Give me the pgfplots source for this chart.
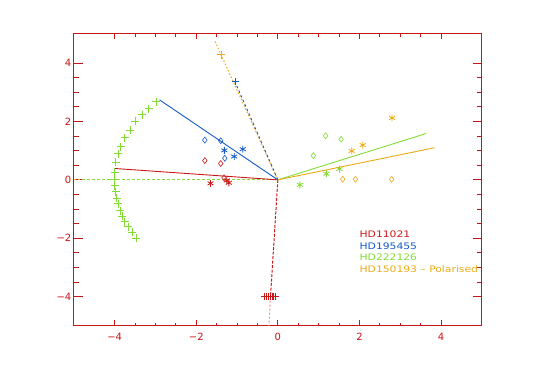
\documentclass[border=0pt]{standalone}
\usepackage{pgfplots}
\pgfplotsset{compat=1.18}
\usepackage{fontspec}
\setmainfont{DejaVu Sans}
\newfontfamily\legfont[FakeStretch=1.2]{DejaVu Sans}
\definecolor{axred}{RGB}{200,20,20}
\definecolor{sred}{RGB}{200,25,25}
\definecolor{sblue}{RGB}{20,90,200}
\definecolor{sgreen}{RGB}{130,220,50}
\definecolor{syellow}{RGB}{235,170,20}
\definecolor{spink}{RGB}{228,140,140}
\begin{document}
\begin{tikzpicture}
\begin{axis}[
  scale only axis, width=408bp, height=292bp,
  xmin=-5, xmax=5, ymin=-5, ymax=5,
  xtick={-4,-2,0,2,4}, ytick={-4,-2,0,2,4},
  xticklabels={−4,−2,0,2,4}, yticklabels={−4,−2,0,2,4},
  minor x tick num=3, minor y tick num=3,
  tick pos=both, tick align=inside,
  axis line style={axred, line width=0.9pt},
  every tick/.style={axred, line width=0.9pt},
  xtick style={/pgfplots/major tick length=5.5bp, /pgfplots/minor tick length=3bp},
  ytick style={/pgfplots/major tick length=9bp, /pgfplots/minor tick length=5bp},
  ticklabel style={text=axred, font=\fontsize{10}{12}\selectfont},
  xticklabel style={yshift=-4bp},
  yticklabel style={xshift=1bp},
  clip=false,
]
\path (axis cs:-6.81,-6.99) rectangle (axis cs:6.45,6.16);
% guide lines
\addplot[draw=syellow, dash pattern=on 2bp off 2bp, line width=1pt] coordinates {(-5,0) (-4.8,0)};
\addplot[draw=sgreen, dash pattern=on 3bp off 2bp, line width=1pt] coordinates {(-4.8,0) (0,0)};
\addplot[draw=syellow, dash pattern=on 1.5bp off 2bp, line width=1pt] coordinates {(0,0) (-1.56,4.8)};
\addplot[draw=sblue, dash pattern=on 2.5bp off 2.5bp, line width=0.9pt] coordinates {(0,0) (-1.05,3.36)};
\addplot[draw=sred, dash pattern=on 3bp off 1.5bp, line width=1pt] coordinates {(0,0) (-0.18,-4)};
\addplot[draw=spink, dash pattern=on 2bp off 2bp, line width=1pt] coordinates {(-0.18,-4) (-0.22,-5)};
% solid lines
\addplot[draw=sred, line width=0.9pt] coordinates {(-4.0,0.39) (0,0)};
\addplot[draw=sblue, line width=0.9pt] coordinates {(-2.90,2.74) (0,0)};
\addplot[draw=sgreen, line width=0.9pt] coordinates {(0,0) (3.64,1.59)};
\addplot[draw=syellow, line width=0.9pt] coordinates {(0,0) (3.84,1.10)};
% HD11021 red
\addplot[only marks, mark=+, mark size=3.5bp, mark options={draw=sred, line width=0.9pt}] coordinates {
(-0.32,-4) (-0.27,-4) (-0.22,-4) (-0.18,-4) (-0.14,-4) (-0.10,-4) (-0.06,-4)};
\addplot[only marks, mark=asterisk, mark size=3.5bp, mark options={draw=sred, line width=0.8pt}] coordinates {
(-1.65,-0.12) (-1.25,-0.02) (-1.20,-0.10)};
\addplot[only marks, mark=diamond, mark size=3bp, mark options={draw=sred, line width=0.6pt}] coordinates {
(-1.79,0.66) (-1.40,0.56) (-1.32,0.07)};
% HD195455 blue
\addplot[only marks, mark=+, mark size=3.5bp, mark options={draw=sblue, line width=1pt}] coordinates {(-1.05,3.36)};
\addplot[only marks, mark=asterisk, mark size=3.5bp, mark options={draw=sblue, line width=0.8pt}] coordinates {
(-1.31,1.01) (-0.86,1.05) (-1.07,0.80)};
\addplot[only marks, mark=diamond, mark size=3bp, mark options={draw=sblue, line width=0.6pt}] coordinates {
(-1.79,1.36) (-1.40,1.34) (-1.30,0.74)};
% HD222126 green
\addplot[only marks, mark=+, mark size=4bp, mark options={draw=sgreen, line width=0.8pt}] coordinates {
(-2.98,2.67) (-3.17,2.44) (-3.32,2.23) (-3.49,2.00) (-3.62,1.71) (-3.75,1.44)
(-3.85,1.14) (-3.91,0.89) (-3.97,0.61) (-4.00,0.27) (-4.01,0.02) (-4.00,-0.20)
(-3.97,-0.41) (-3.95,-0.63) (-3.92,-0.81) (-3.87,-1.05) (-3.81,-1.24) (-3.75,-1.43)
(-3.67,-1.61) (-3.57,-1.79) (-3.47,-2.00)};
\addplot[only marks, mark=asterisk, mark size=3.5bp, mark options={draw=sgreen, line width=0.8pt}] coordinates {
(0.54,-0.17) (1.19,0.21) (1.51,0.37)};
\addplot[only marks, mark=diamond, mark size=3bp, mark options={draw=sgreen, line width=0.6pt}] coordinates {
(1.17,1.51) (1.55,1.39) (0.87,0.83)};
% HD150193 yellow
\addplot[only marks, mark=+, mark size=4bp, mark options={draw=syellow, line width=1pt}] coordinates {(-1.39,4.28)};
\addplot[only marks, mark=asterisk, mark size=3.5bp, mark options={draw=syellow, line width=0.8pt}] coordinates {
(2.80,2.12) (2.08,1.19) (1.81,0.99)};
\addplot[only marks, mark=diamond, mark size=3bp, mark options={draw=syellow, line width=0.6pt}] coordinates {
(1.59,0.02) (1.90,0.02) (2.79,0.02)};
% legend text
\begin{scope}[font=\legfont\fontsize{9}{11}\selectfont]
\node[anchor=base west, text=sred, inner sep=0pt] at (axis cs:2.0,-1.97) {HD11021};
\node[anchor=base west, text=sblue, inner sep=0pt] at (axis cs:2.0,-2.37) {HD195455};
\node[anchor=base west, text=sgreen, inner sep=0pt] at (axis cs:2.0,-2.77) {HD222126};
\node[anchor=base west, text=syellow, inner sep=0pt] at (axis cs:2.0,-3.17) {HD150193 – Polarised};
\end{scope}
\end{axis}
\end{tikzpicture}
\end{document}
